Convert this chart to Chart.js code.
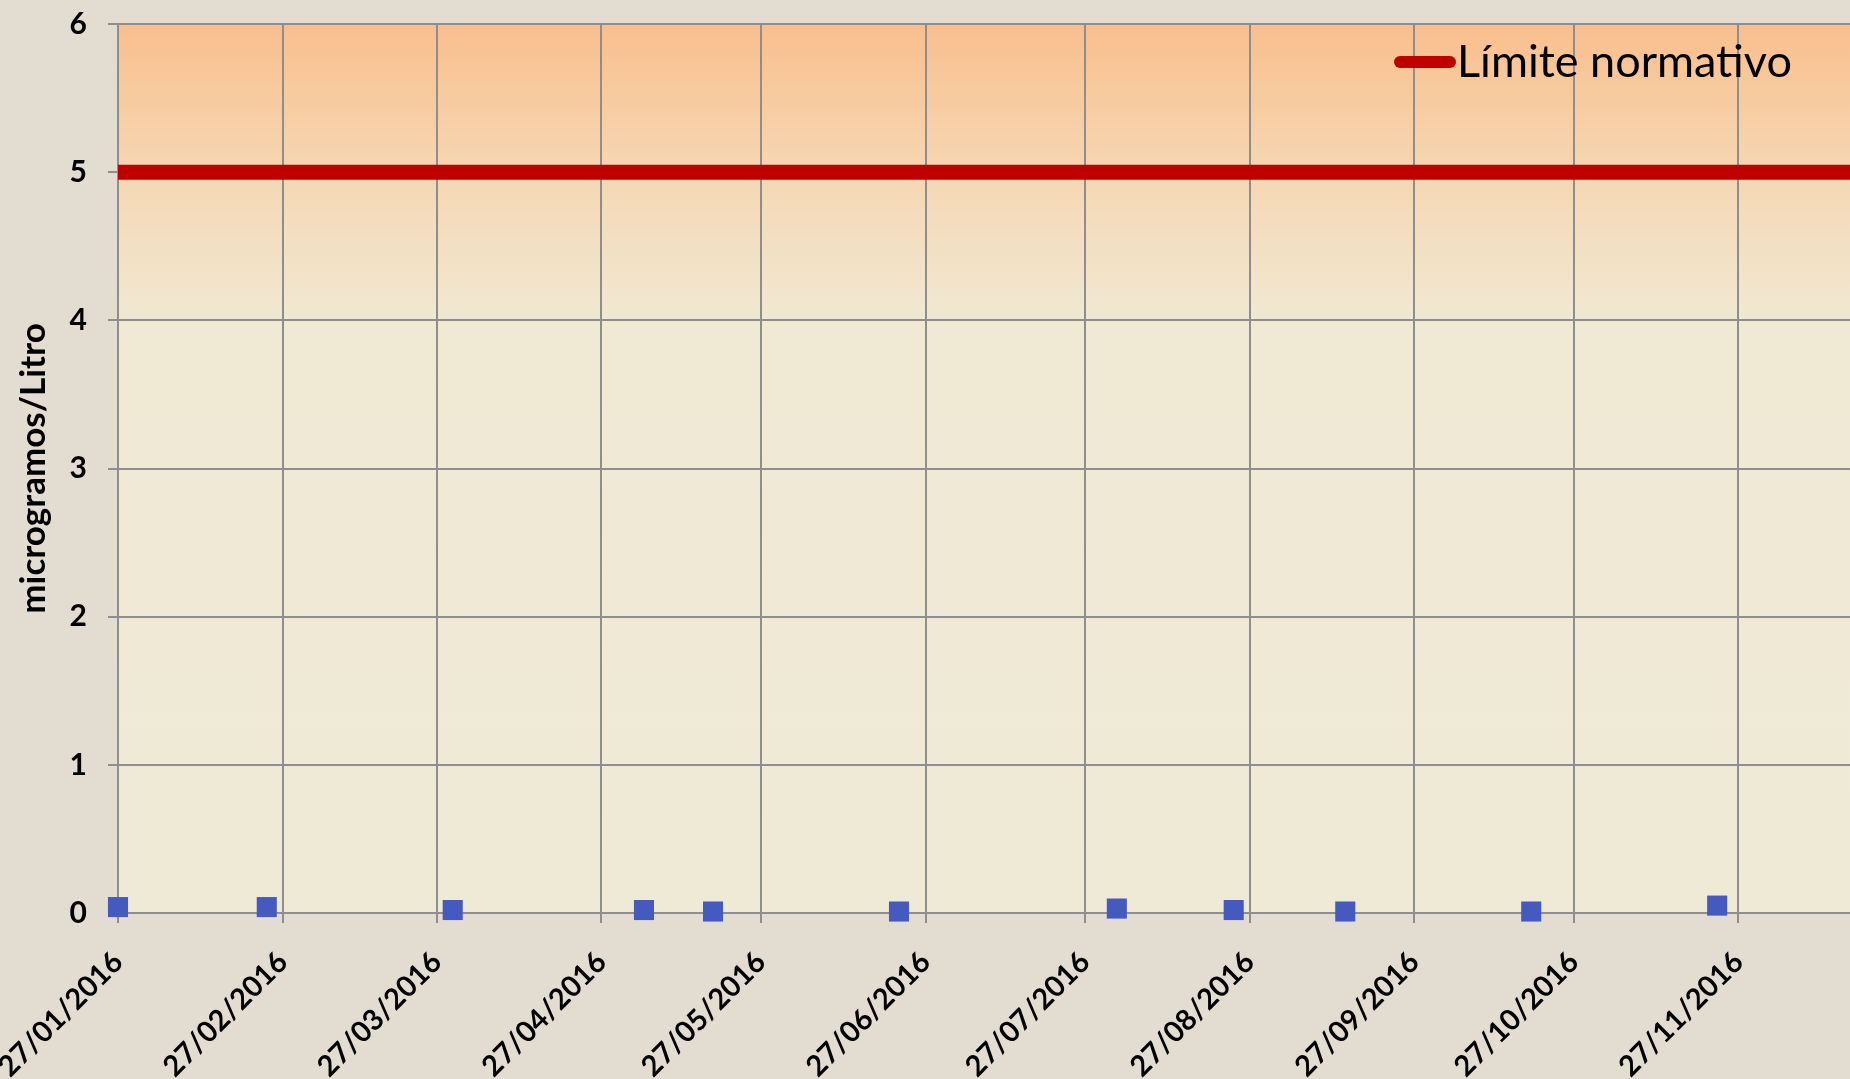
<!DOCTYPE html>
<html lang="es">
<head>
<meta charset="utf-8">
<title>microgramos/Litro — 2016</title>
<script src="https://cdn.jsdelivr.net/npm/chart.js@4.4.1/dist/chart.umd.min.js"></script>
<style>
  html, body { margin: 0; padding: 0; background: #E3DCD1; overflow: hidden; }
  canvas { display: block; }
</style>
</head>
<body>
<canvas id="chart" width="1850" height="1079"></canvas>
<script>
// Sampling dates and measured concentrations (µg/L)
const sampleDates  = ['27/01/2016', '24/02/2016', '30/03/2016', '05/05/2016', '18/05/2016', '22/06/2016',
                      '02/08/2016', '24/08/2016', '14/09/2016', '19/10/2016', '23/11/2016'];
const sampleValues = [0.04, 0.04, 0.02, 0.02, 0.01, 0.01, 0.03, 0.02, 0.01, 0.01, 0.05];

// Axis ticks
const tickDates   = ['27/01/2016', '27/02/2016', '27/03/2016', '27/04/2016', '27/05/2016', '27/06/2016',
                     '27/07/2016', '27/08/2016', '27/09/2016', '27/10/2016', '27/11/2016'];
const yTickValues = [0, 1, 2, 3, 4, 5, 6];
const axisStart   = '27/01/2016';
const axisEnd     = '18/12/2016';

// Regulatory limit
const limitLabel = 'Límite normativo';
const limitValue = 5;

const yTitle = 'microgramos/Litro';

const FONT = 'Lato, "Open Sans", "DejaVu Sans", sans-serif';
const GRID = '#8E8E8E';

function toUTC(s) {
  const [d, m, y] = s.split('/').map(Number);
  return Date.UTC(y, m - 1, d);
}
const t0 = toUTC(axisStart);
function dayOf(s) { return Math.round((toUTC(s) - t0) / 86400000); }

const xMin = dayOf(axisStart);
const xMax = dayOf(axisEnd);
const tickDays = tickDates.map(dayOf);

// Warm gradient behind the plotting area
const plotBackground = {
  id: 'plotBackground',
  beforeDraw(chart) {
    const { ctx, chartArea: a } = chart;
    const g = ctx.createLinearGradient(0, a.top, 0, a.bottom);
    g.addColorStop(0, '#F9BF8D');
    g.addColorStop(0.17, '#F5D7B3');
    g.addColorStop(0.34, '#F0E9D4');
    g.addColorStop(1, '#EFEAD6');
    ctx.save();
    ctx.fillStyle = g;
    ctx.fillRect(a.left, a.top, a.right - a.left, a.bottom - a.top);
    ctx.restore();
  }
};

// Legend entry for the limit line, inside the plot at the top right
const limitLegend = {
  id: 'limitLegend',
  afterDraw(chart) {
    const ds = chart.data.datasets[0];
    const { ctx } = chart;
    ctx.save();
    ctx.strokeStyle = ds.borderColor;
    ctx.lineWidth = 12;
    ctx.lineCap = 'round';
    ctx.beginPath();
    ctx.moveTo(1400, 62);
    ctx.lineTo(1450, 62);
    ctx.stroke();
    ctx.fillStyle = '#000';
    ctx.font = '45px ' + FONT;
    ctx.textAlign = 'left';
    ctx.textBaseline = 'alphabetic';
    ctx.fillText(ds.label, 1457, 77);
    ctx.restore();
  }
};

new Chart(document.getElementById('chart'), {
  type: 'scatter',
  data: {
    datasets: [
      {
        label: limitLabel,
        type: 'line',
        data: [{ x: xMin, y: limitValue }, { x: xMax, y: limitValue }],
        borderColor: '#C00000',
        borderWidth: 15,
        pointRadius: 0,
        showLine: true,
        fill: false
      },
      {
        label: 'Muestras',
        data: sampleDates.map((d, i) => ({ x: dayOf(d), y: sampleValues[i] })),
        pointStyle: 'rect',
        pointRadius: 14.2,
        pointBackgroundColor: '#455ABE',
        pointBorderColor: '#455ABE',
        pointBorderWidth: 0,
        clip: false
      }
    ]
  },
  options: {
    responsive: false,
    animation: false,
    events: [],
    layout: { autoPadding: false, padding: { top: 24, left: 0, right: 0, bottom: 0 } },
    plugins: {
      legend: { display: false },
      tooltip: { enabled: false }
    },
    scales: {
      x: {
        type: 'linear',
        min: xMin,
        max: xMax,
        afterBuildTicks: s => { s.ticks = tickDays.map(v => ({ value: v })); },
        afterFit: s => { s.height = 166; s.paddingLeft = 0; s.paddingRight = 0; },
        ticks: {
          autoSkip: false,
          maxRotation: 45,
          minRotation: 45,
          padding: 22,
          color: '#000',
          font: { family: FONT, size: 29, weight: 'bold' },
          callback: v => tickDates[tickDays.indexOf(v)]
        },
        grid: { color: GRID, lineWidth: 2, tickLength: 10, drawTicks: true },
        border: { color: GRID, width: 2 }
      },
      y: {
        min: 0,
        max: 6,
        afterBuildTicks: s => { s.ticks = yTickValues.map(v => ({ value: v })); },
        afterFit: s => { s.width = 118; s.paddingTop = 0; s.paddingBottom = 0; },
        ticks: {
          padding: 21,
          color: '#000',
          font: { family: FONT, size: 30, weight: 'bold' }
        },
        grid: { color: GRID, lineWidth: 2, tickLength: 10, drawTicks: true },
        border: { color: GRID, width: 2 },
        title: {
          display: true,
          text: yTitle,
          color: '#000',
          font: { family: FONT, size: 35, weight: 'bold' },
          padding: { top: 13, bottom: 0 }
        }
      }
    }
  },
  plugins: [plotBackground, limitLegend]
});
</script>
</body>
</html>
